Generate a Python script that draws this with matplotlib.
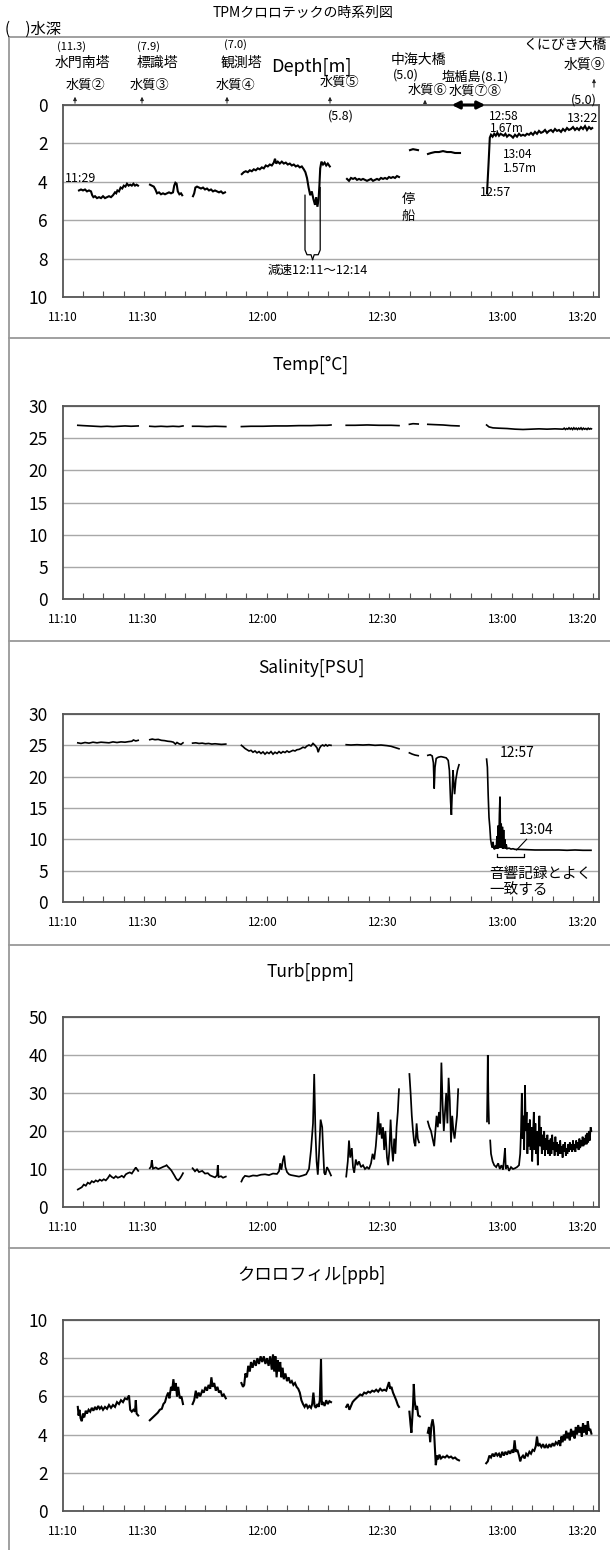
import numpy as np
import matplotlib
matplotlib.use('Agg')
import matplotlib.pyplot as plt
from matplotlib.lines import Line2D

plt.rcParams['font.family'] = ['Noto Sans CJK JP', 'DejaVu Sans']

W, H = 610, 1550

# time axis = minutes after 11:10
tick_pos = [0, 20, 50, 80, 110, 130]
tick_lab = ['11:10', '11:30', '12:00', '12:30', '13:00', '13:20']
minor_pos = np.linspace(4.97, 132.6, 26)

# Depth [m] (segments)
depth_t = [
    [4, 4.5, 5, 5.5, 6, 6.5, 7, 7.3, 7.6, 8, 8.5, 9, 9.5, 10, 10.5, 11, 11.5, 12, 12.5, 13,
     13.3, 13.6, 14, 14.4, 14.8, 15.2, 15.6, 16, 16.4, 16.8, 17.2, 17.6, 18, 18.4, 18.75],
    [21.75, 22.2, 22.7, 23.1, 23.5, 24, 24.5, 25, 25.5, 26, 26.5, 27, 27.5, 27.8, 28.1, 28.4,
     28.7, 29.1, 29.5, 29.8],
    [32.5, 32.8, 33.1, 33.5, 34, 34.5, 35, 35.5, 36, 36.5, 37, 37.5, 38, 38.5, 39, 39.5, 40, 40.5],
    [44.7, 45.2, 45.7, 46.2, 46.7, 47.2, 47.7, 48.2, 48.7, 49.2, 49.7, 50.2, 50.7, 51.2, 51.7,
     52.2, 52.7, 53.0, 53.3, 53.7, 54.2, 54.7, 55.2, 55.7, 56.2, 56.7, 57.2, 57.7, 58.2, 58.7,
     59.2, 59.7, 60.2, 60.6, 61.0, 61.4, 61.8, 62.2, 62.6, 63.0, 63.3, 63.6, 63.9, 64.1, 64.3,
     64.6, 65.0, 65.4, 65.8, 66.2, 66.7],
    [71, 71.5, 72, 72.5, 73, 73.5, 74, 74.5, 75, 75.5, 76, 76.5, 77, 77.5, 78, 78.5, 79, 79.5,
     80, 80.5, 81, 81.5, 82, 82.5, 83, 83.5, 84],
    [86.75, 87.5, 88.75],
    [91.25, 92, 93, 94, 95, 96, 97, 98, 99.25],
    [106, 106.4, 106.7, 107, 107.4, 107.8, 108.2, 108.6, 109, 109.4, 109.8, 110.2, 110.6, 111,
     111.5, 112, 112.5, 113, 113.5, 114, 114.5, 115, 115.5, 116, 116.5, 117, 117.5, 118, 118.5,
     119, 119.5, 120, 120.5, 121, 121.5, 122, 122.5, 123, 123.5, 124, 124.5, 125, 125.5, 126,
     126.5, 127, 127.5, 128, 128.5, 129, 129.5, 130, 130.5, 131, 131.5, 132, 132.3],
]
depth_v = [
    [4.45, 4.4, 4.45, 4.4, 4.5, 4.45, 4.5, 4.7, 4.8, 4.75, 4.85, 4.8, 4.85, 4.75, 4.85, 4.8, 4.75,
     4.8, 4.7, 4.55, 4.6, 4.45, 4.5, 4.3, 4.35, 4.2, 4.25, 4.1, 4.2, 4.15, 4.2, 4.1, 4.2, 4.15, 4.2],
    [4.15, 4.2, 4.25, 4.4, 4.6, 4.55, 4.65, 4.6, 4.65, 4.6, 4.55, 4.6, 4.55, 4.2, 4.05, 4.1, 4.5,
     4.65, 4.6, 4.7],
    [4.75, 4.6, 4.3, 4.25, 4.3, 4.35, 4.3, 4.4, 4.35, 4.45, 4.4, 4.5, 4.45, 4.5, 4.55, 4.5, 4.6, 4.55],
    [3.6, 3.5, 3.45, 3.5, 3.4, 3.45, 3.35, 3.4, 3.3, 3.35, 3.25, 3.3, 3.15, 3.2, 3.1, 3.15, 3.0,
     2.8, 3.05, 2.95, 3.05, 2.95, 3.05, 3.0, 3.1, 3.05, 3.15, 3.1, 3.2, 3.15, 3.25, 3.2, 3.35,
     3.5, 3.8, 4.3, 4.7, 4.5, 4.9, 5.2, 4.8, 5.3, 4.9, 4.2, 3.3, 2.95, 3.1, 3.0, 3.15, 3.05, 3.2],
    [3.85, 3.95, 3.8, 3.85, 3.8, 3.9, 3.85, 3.9, 3.85, 3.9, 3.95, 3.9, 3.85, 3.95, 3.9, 3.85,
     3.9, 3.8, 3.85, 3.8, 3.85, 3.75, 3.8, 3.75, 3.8, 3.7, 3.75],
    [2.35, 2.3, 2.35],
    [2.55, 2.5, 2.45, 2.45, 2.4, 2.45, 2.45, 2.5, 2.5],
    [4.6, 3.0, 1.7, 1.55, 1.65, 1.5, 1.6, 1.45, 1.6, 1.5, 1.55, 1.6, 1.5, 1.65, 1.55, 1.6, 1.7,
     1.55, 1.65, 1.5, 1.6, 1.55, 1.6, 1.5, 1.55, 1.45, 1.55, 1.4, 1.5, 1.35, 1.45, 1.4, 1.3, 1.45,
     1.35, 1.3, 1.4, 1.25, 1.35, 1.3, 1.4, 1.25, 1.35, 1.2, 1.3, 1.25, 1.15, 1.3, 1.2, 1.3, 1.15,
     1.25, 1.1, 1.3, 1.15, 1.25, 1.2],
]

# Temp [C]
temp_t = [
    [3.7, 5, 6.5, 8, 9.5, 11, 12.5, 14, 15.5, 17, 18.8],
    [21.7, 23, 24.5, 26, 27.5, 29, 30],
    [32.4, 34, 36, 38, 40.7],
    [44.6, 47, 50, 53, 56, 59, 62, 64, 66, 67],
    [70.8, 73, 76, 79, 82, 84],
    [86.6, 87.5, 88.8],
    [91.2, 93, 95, 97, 99],
    [105.9, 106.5, 107.5, 109, 111, 113, 115, 117, 119, 121, 123, 125, 125.3, 125.6, 125.9,
     126.2, 126.5, 126.8, 127.1, 127.4, 127.7, 128, 128.3, 128.6, 128.9, 129.2, 129.5, 129.8,
     130.1, 130.4, 130.7, 131, 131.3, 131.6, 131.9, 132.1],
]
temp_v = [
    [27.0, 26.95, 26.9, 26.85, 26.8, 26.85, 26.8, 26.85, 26.9, 26.85, 26.9],
    [26.85, 26.8, 26.85, 26.8, 26.85, 26.8, 26.9],
    [26.85, 26.85, 26.8, 26.85, 26.8],
    [26.8, 26.85, 26.85, 26.9, 26.9, 26.95, 26.95, 27.0, 27.0, 27.05],
    [27.0, 27.0, 27.05, 27.0, 27.0, 26.95],
    [27.15, 27.25, 27.2],
    [27.15, 27.1, 27.05, 26.95, 26.9],
    [27.05, 26.75, 26.6, 26.55, 26.5, 26.4, 26.35, 26.4, 26.45, 26.4, 26.45, 26.4, 26.55, 26.35,
     26.5, 26.4, 26.6, 26.4, 26.55, 26.35, 26.6, 26.4, 26.55, 26.35, 26.55, 26.4, 26.6, 26.35,
     26.55, 26.4, 26.5, 26.35, 26.55, 26.4, 26.5, 26.45],
]

# Salinity [PSU]
sal_t = [
    [3.7, 4.5, 5.5, 6.5, 7.5, 8.5, 9.5, 10.5, 11.5, 12.5, 13.5, 14.5, 15.5, 16.5, 17.2, 17.6, 18.2, 18.8],
    [21.7, 22.3, 23.0, 23.8, 24.6, 25.4, 26.2, 27.0, 27.6, 28.1, 28.5, 29.0, 29.5, 30.0],
    [32.4, 33.2, 34.0, 34.8, 35.6, 36.4, 37.2, 38.0, 38.8, 39.6, 40.7],
    [44.6, 45.0, 45.5, 46.0, 46.5, 47.0, 47.5, 48.0, 48.5, 49.0, 49.5, 50.0, 50.5, 51.0, 51.5,
     52.0, 52.5, 53.0, 53.5, 54.0, 54.5, 55.0, 55.5, 56.0, 56.5, 57.0, 57.5, 58.0, 58.5, 59.0,
     59.5, 60.0, 60.5, 61.0, 61.5, 62.0, 62.5, 63.0, 63.5, 63.8, 64.1, 64.5, 64.9, 65.3, 65.7,
     66.1, 66.5, 67.0],
    [70.8, 72.0, 73.5, 75.0, 76.5, 78.0, 79.5, 81.0, 82.0, 83.0, 84.0],
    [86.6, 87.3, 88.0, 88.8],
    [91.2, 91.8, 92.3, 92.6, 92.8, 93.0, 93.3, 93.8, 94.5, 95.2, 95.8, 96.3, 96.6, 96.9, 97.1,
     97.3, 97.5, 97.7, 97.9, 98.2, 98.6, 99.0],
    [105.9, 106.1, 106.3, 106.5, 106.7, 106.9, 107.1, 107.3, 107.5, 107.7, 107.9, 108.1, 108.3,
     108.5, 108.65, 108.8, 108.95, 109.1, 109.25, 109.4, 109.55, 109.7, 109.85, 110.0, 110.15,
     110.3, 110.45, 110.6, 110.8, 111.0, 111.5, 112.0, 112.5, 113.0, 114.0, 116.0, 118.0, 120.0,
     122.0, 124.0, 126.0, 128.0, 130.0, 132.0],
]
sal_v = [
    [25.4, 25.3, 25.45, 25.35, 25.5, 25.4, 25.5, 25.45, 25.4, 25.55, 25.45, 25.55, 25.5, 25.6,
     25.65, 25.85, 25.7, 25.8],
    [25.9, 26.0, 25.9, 25.95, 25.8, 25.75, 25.65, 25.6, 25.5, 25.2, 25.45, 25.25, 25.15, 25.4],
    [25.35, 25.4, 25.3, 25.35, 25.25, 25.3, 25.2, 25.25, 25.2, 25.15, 25.2],
    [25.0, 24.8, 24.5, 24.3, 24.1, 24.2, 23.9, 24.1, 23.8, 24.0, 23.7, 23.95, 23.6, 23.9, 23.7,
     24.0, 23.6, 23.9, 23.7, 24.0, 23.75, 24.0, 23.85, 24.1, 23.9, 24.05, 24.2, 24.1, 24.3, 24.35,
     24.5, 24.7, 24.6, 24.9, 25.05, 24.9, 25.3, 25.0, 24.6, 23.9, 24.5, 24.9, 25.05, 24.9, 25.1,
     24.9, 25.05, 25.0],
    [25.1, 25.05, 25.1, 25.05, 25.1, 25.0, 25.05, 24.95, 24.85, 24.65, 24.45],
    [23.8, 23.6, 23.45, 23.35],
    [23.4, 23.5, 23.3, 22.2, 18.1, 21.5, 22.9, 23.1, 23.2, 23.1, 23.0, 22.6, 21.0, 16.0, 13.9,
     17.5, 21.0, 19.0, 17.2, 19.5, 21.0, 21.9],
    [22.8, 21.5, 17.0, 13.5, 12.0, 10.0, 9.2, 8.7, 9.6, 8.6, 8.4, 9.0, 8.5, 10.5, 8.5, 12.2, 8.6,
     14.0, 16.8, 8.7, 12.5, 8.6, 12.0, 8.5, 11.5, 8.6, 10.0, 8.5, 9.2, 8.5, 8.6, 8.45, 8.5, 8.4,
     8.4, 8.35, 8.3, 8.3, 8.3, 8.3, 8.25, 8.3, 8.25, 8.25],
]

# Turb [ppm]
turb_t = [
    [3.7, 4.2, 4.7, 5.2, 5.7, 6.2, 6.7, 7.2, 7.7, 8.2, 8.7, 9.2, 9.7, 10.2, 10.7, 11.2, 11.7,
     12.2, 12.7, 13.2, 13.7, 14.2, 14.7, 15.2, 15.7, 16.2, 16.7, 17.2, 17.7, 18.2, 18.8],
    [21.7, 22.0, 22.2, 22.5, 23.2, 23.8, 24.5, 25.1, 25.6, 25.9, 26.3, 26.6, 27.1, 27.5, 27.9,
     28.2, 28.5, 28.8, 29.3, 29.7, 30.0],
    [32.4, 33.0, 33.5, 34.0, 34.8, 35.5, 36.2, 36.8, 37.5, 38.0, 38.5, 38.7, 38.9, 39.5, 40.0, 40.7],
    [44.6, 45.0, 45.5, 46.5, 47.5, 48.5, 49.5, 50.5, 51.5, 52.5, 53.5, 54.0, 54.3, 54.6, 55.0,
     55.3, 55.6, 56.0, 56.5, 57.0, 58.0, 59.0, 60.0, 60.8, 61.5, 62.0, 62.5, 62.8, 63.1, 63.4,
     63.7, 64.0, 64.4, 64.8, 65.0, 65.3, 65.6, 66.0, 66.5, 67.0],
    [70.8, 71.2, 71.5, 71.8, 72.2, 72.5, 72.8, 73.2, 73.6, 74.0, 74.5, 75.0, 75.5, 76.0, 76.5,
     77.0, 77.4, 77.8, 78.2, 78.5, 78.8, 79.1, 79.4, 79.7, 80.0, 80.3, 80.6, 81.0, 81.3, 81.6,
     81.9, 82.2, 82.5, 82.8, 83.1, 83.4, 83.7, 84.0],
    [86.6, 86.9, 87.2, 87.5, 87.8, 88.1, 88.4, 88.7, 89.0],
    [91.2, 91.6, 92.0, 92.4, 92.8, 93.1, 93.4, 93.7, 94.0, 94.3, 94.6, 94.9, 95.2, 95.5, 95.8,
     96.1, 96.4, 96.7, 97.0, 97.3, 97.6, 97.9, 98.2, 98.5, 98.8],
    [106.0, 106.1, 106.2, 106.35, 106.5],
    [106.8, 107.0, 107.4, 107.8, 108.3, 108.8, 109.2, 109.6, 110.0, 110.3, 110.5, 110.7, 111.1,
     111.5, 112.0, 112.5, 113.0, 113.5, 114.0, 114.3, 114.5, 114.7, 114.9, 115.1, 115.3, 115.5,
     115.7, 115.9, 116.1, 116.3, 116.5, 116.7, 116.9, 117.1, 117.3, 117.5, 117.7, 117.9, 118.1,
     118.3, 118.5, 118.7, 118.9, 119.1, 119.3, 119.5, 119.7, 119.9, 120.1, 120.3, 120.5, 120.7,
     120.9, 121.1, 121.3, 121.5, 121.7, 121.9, 122.1, 122.3, 122.5, 122.7, 122.9, 123.1, 123.3,
     123.5, 123.7, 123.9, 124.1, 124.3, 124.5, 124.7, 124.9, 125.1, 125.3, 125.5, 125.7, 125.9,
     126.1, 126.3, 126.5, 126.7, 126.9, 127.1, 127.3, 127.5, 127.7, 127.9, 128.1, 128.3, 128.5,
     128.7, 128.9, 129.1, 129.3, 129.5, 129.7, 129.9, 130.1, 130.3, 130.5, 130.7, 130.9, 131.1,
     131.3, 131.5, 131.7, 131.9, 132.1],
]
turb_v = [
    [4.6, 4.9, 5.2, 5.9, 5.6, 6.4, 6.1, 6.8, 6.5, 7.0, 6.7, 7.2, 6.9, 7.3, 7.0, 7.6, 8.4, 7.9,
     7.6, 8.1, 7.7, 7.9, 8.2, 7.8, 8.6, 8.9, 9.1, 8.8, 9.6, 10.4, 9.5],
    [10.2, 10.6, 12.3, 10.1, 10.4, 10.0, 10.3, 10.6, 10.8, 11.0, 10.5, 10.2, 9.6, 8.9, 8.2, 7.6,
     7.2, 7.0, 7.6, 8.3, 8.9],
    [10.2, 9.4, 9.9, 9.2, 9.5, 8.8, 8.9, 8.3, 8.0, 7.8, 8.3, 11.0, 7.9, 8.1, 7.7, 8.0],
    [6.7, 7.6, 8.2, 8.0, 8.3, 8.2, 8.5, 8.6, 8.4, 8.8, 8.7, 9.4, 11.5, 9.8, 12.4, 13.5, 10.5,
     9.2, 8.6, 8.4, 8.2, 8.0, 8.3, 8.6, 10.0, 15.0, 22.0, 35.0, 20.0, 12.0, 8.5, 14.0, 23.0,
     21.0, 16.0, 9.0, 8.5, 10.5, 9.5, 8.3],
    [8.0, 12.0, 17.5, 13.0, 15.5, 10.5, 9.0, 12.5, 11.0, 12.0, 10.5, 11.0, 10.0, 10.5, 10.0,
     11.5, 14.0, 12.5, 16.0, 20.0, 25.0, 19.0, 22.0, 18.0, 21.0, 15.0, 20.0, 13.0, 11.0, 15.0,
     23.0, 16.0, 12.0, 18.0, 14.0, 21.0, 25.0, 31.0],
    [35.0, 30.0, 24.0, 20.0, 17.0, 16.0, 22.0, 18.0, 17.0],
    [22.5, 21.0, 20.0, 18.0, 16.0, 20.0, 24.0, 21.0, 25.0, 22.0, 38.0, 27.0, 20.0, 25.0, 30.0,
     22.0, 34.0, 28.0, 17.0, 24.0, 20.0, 18.0, 21.0, 24.0, 31.0],
    [22.5, 30.0, 40.0, 28.0, 22.0],
    [17.5, 14.0, 12.0, 11.0, 10.5, 11.5, 10.0, 11.0, 9.8, 13.0, 15.5, 10.0, 11.0, 9.5, 10.5,
     10.0, 10.2, 10.5, 11.0, 14.0, 20.0, 30.0, 18.0, 24.0, 15.0, 32.0, 20.0, 25.0, 14.0, 22.0,
     16.0, 23.0, 15.0, 21.0, 12.0, 19.0, 25.0, 15.0, 22.0, 14.0, 20.0, 11.0, 18.0, 24.0, 16.0,
     21.0, 14.0, 19.0, 15.0, 20.0, 13.5, 18.0, 15.0, 19.0, 14.0, 17.5, 13.5, 18.0, 14.0, 19.0,
     15.0, 17.0, 13.5, 18.5, 14.5, 17.0, 13.5, 16.5, 14.0, 17.5, 14.0, 16.0, 13.0, 16.5, 14.5,
     17.0, 13.5, 15.5, 14.0, 16.5, 14.5, 17.0, 15.0, 16.5, 14.5, 17.5, 15.0, 16.5, 14.5, 17.5,
     15.5, 17.0, 15.0, 18.0, 15.5, 17.5, 16.0, 18.5, 16.0, 18.0, 16.5, 19.0, 16.5, 19.5, 17.0,
     20.0, 17.5, 21.0, 20.0],
]

# クロロフィル [ppb]
chl_t = [
    [3.7, 3.9, 4.1, 4.4, 4.7, 5.0, 5.3, 5.7, 6.0, 6.4, 6.8, 7.2, 7.6, 8.0, 8.4, 8.8, 9.2, 9.6,
     10.0, 10.5, 11.0, 11.5, 12.0, 12.5, 13.0, 13.5, 14.0, 14.5, 15.0, 15.5, 16.0, 16.5, 16.8,
     17.2, 17.6, 18.0, 18.2, 18.4, 18.8],
    [21.7, 22.2, 22.7, 23.2, 23.7, 24.2, 24.7, 25.1, 25.5, 25.9, 26.3, 26.6, 27.0, 27.3, 27.6,
     27.9, 28.2, 28.5, 28.8, 29.2, 29.6, 30.0],
    [32.4, 32.8, 33.2, 33.5, 33.9, 34.3, 34.8, 35.2, 35.6, 36.0, 36.4, 36.8, 37.1, 37.4, 37.8,
     38.2, 38.6, 39.0, 39.4, 39.8, 40.2, 40.7],
    [44.6, 45.0, 45.3, 45.6, 46.0, 46.3, 46.7, 47.0, 47.4, 47.8, 48.2, 48.6, 49.0, 49.4, 49.8,
     50.2, 50.6, 51.0, 51.4, 51.8, 52.2, 52.5, 52.8, 53.1, 53.4, 53.7, 54.0, 54.3, 54.6, 54.9,
     55.2, 55.6, 56.0, 56.4, 56.8, 57.2, 57.6, 58.0, 58.4, 58.8, 59.2, 59.6, 60.0, 60.4, 60.8,
     61.2, 61.6, 62.0, 62.3, 62.6, 62.9, 63.2, 63.6, 63.9, 64.2, 64.5, 64.7, 65.0, 65.4, 65.8,
     66.2, 66.6, 67.0],
    [70.8, 71.2, 71.6, 72.0, 72.4, 72.8, 73.3, 73.8, 74.3, 74.8, 75.3, 75.8, 76.3, 76.8, 77.3,
     77.8, 78.3, 78.8, 79.3, 79.8, 80.3, 80.8, 81.2, 81.5, 81.8, 82.1, 82.5, 82.9, 83.3, 83.7, 84.0],
    [86.6, 86.9, 87.1, 87.3, 87.5, 87.7, 87.9, 88.2, 88.5, 88.8, 89.2],
    [91.2, 91.5, 91.8, 92.1, 92.4, 92.7, 93.0, 93.2, 93.5, 93.8, 94.1, 94.5, 95.0, 95.5, 96.0,
     96.5, 97.0, 97.5, 98.0, 98.5, 99.0],
    [105.8, 106.2, 106.6, 107.0, 107.4, 107.8, 108.2, 108.6, 109.0, 109.4, 109.8, 110.2, 110.6,
     111.0, 111.4, 111.8, 112.2, 112.6, 112.9, 113.2, 113.6, 114.0, 114.3, 114.6, 115.0, 115.4,
     115.8, 116.2, 116.6, 117.0, 117.4, 117.8, 118.2, 118.5, 118.8, 119.2, 119.6, 120.0, 120.4,
     120.8, 121.2, 121.6, 122.0, 122.4, 122.8, 123.2, 123.6, 124.0, 124.3, 124.6, 124.9, 125.2,
     125.5, 125.8, 126.1, 126.4, 126.7, 127.0, 127.3, 127.6, 127.9, 128.2, 128.5, 128.8, 129.1,
     129.4, 129.7, 130.0, 130.3, 130.6, 130.9, 131.2, 131.5, 131.8, 132.1],
]
chl_v = [
    [5.45, 5.0, 5.3, 4.85, 4.7, 5.1, 4.9, 5.25, 5.1, 5.3, 5.2, 5.4, 5.25, 5.45, 5.3, 5.5, 5.35,
     5.45, 5.3, 5.45, 5.35, 5.55, 5.4, 5.55, 5.45, 5.7, 5.6, 5.8, 5.7, 5.9, 5.85, 6.05, 5.3, 5.2,
     5.3, 5.2, 5.8, 5.1, 5.0],
    [4.75, 4.85, 4.95, 5.05, 5.15, 5.3, 5.35, 5.6, 5.7, 6.0, 6.2, 5.9, 6.5, 6.3, 6.9, 6.3, 6.7,
     6.0, 6.5, 5.9, 6.0, 5.6],
    [5.6, 5.8, 6.3, 5.9, 6.2, 6.0, 6.3, 6.2, 6.5, 6.3, 6.6, 6.4, 7.0, 6.5, 6.7, 6.3, 6.5, 6.2,
     6.3, 6.0, 6.1, 5.9],
    [6.7, 6.5, 6.6, 7.2, 7.0, 7.6, 7.3, 7.8, 7.5, 7.9, 7.6, 8.0, 7.7, 8.1, 7.8, 8.1, 7.7, 8.0,
     7.6, 8.1, 7.4, 8.2, 7.3, 8.1, 7.0, 7.9, 7.3, 7.8, 7.0, 7.5, 6.9, 7.2, 6.8, 7.0, 6.7, 6.8,
     6.6, 6.7, 6.5, 6.4, 6.2, 5.8, 5.6, 5.45, 5.6, 5.4, 5.5, 5.4, 5.6, 6.2, 5.5, 5.4, 5.6, 5.45,
     5.8, 7.95, 5.55, 5.7, 5.5, 5.8, 5.6, 5.75, 5.7],
    [5.45, 5.6, 5.3, 5.5, 5.7, 5.8, 5.9, 6.0, 6.1, 6.05, 6.2, 6.15, 6.25, 6.2, 6.3, 6.25, 6.35,
     6.25, 6.4, 6.3, 6.35, 6.3, 6.55, 6.75, 6.4, 6.5, 6.2, 6.0, 5.8, 5.55, 5.45],
    [5.2, 4.5, 4.1, 4.8, 5.5, 6.65, 5.8, 5.3, 5.5, 5.0, 4.95],
    [4.1, 4.4, 3.6, 4.5, 4.8, 4.4, 3.2, 2.4, 2.9, 2.7, 2.95, 2.75, 2.85, 2.8, 2.9, 2.8, 2.85,
     2.75, 2.8, 2.7, 2.65],
    [2.5, 2.6, 2.9, 2.8, 3.0, 2.85, 3.05, 2.9, 3.0, 2.8, 3.1, 2.9, 3.1, 2.95, 3.15, 3.0, 3.2,
     3.05, 3.7, 3.1, 3.2, 2.9, 2.6, 2.8, 2.9, 2.75, 3.0, 2.9, 3.1, 3.0, 3.2, 3.15, 3.4, 3.9, 3.4,
     3.5, 3.35, 3.5, 3.3, 3.45, 3.3, 3.5, 3.35, 3.55, 3.4, 3.6, 3.5, 3.7, 3.4, 3.9, 3.6, 4.0, 3.7,
     4.2, 3.8, 4.1, 3.7, 4.3, 3.9, 4.2, 3.8, 4.4, 4.0, 4.5, 4.1, 4.4, 3.9, 4.6, 4.1, 4.5, 4.0,
     4.7, 4.2, 4.3, 4.05],
]

fig = plt.figure(figsize=(W / 100, H / 100), dpi=100)


def px(x, y):
    return x / W, 1 - y / H


def ftext(x, y, s, size=9.5, ha='center', **kw):
    fig.text(*px(x, y), s, fontsize=size, ha=ha, va='center', **kw)


def fline(xs, ys, **kw):
    fig.add_artist(Line2D([x / W for x in xs], [1 - y / H for y in ys],
                          transform=fig.transFigure, **kw))


def farrow(x, y0, y1):
    fig.add_artist(matplotlib.patches.FancyArrowPatch(
        px(x, y0), px(x, y1), transform=fig.transFigure,
        arrowstyle='-|>', mutation_scale=5, lw=0.7, color='#222'))


def make_ax(top, bottom, ymax, ystep, invert=False):
    ax = fig.add_axes([63 / W, 1 - bottom / H, (599 - 63) / W, (bottom - top) / H])
    ax.set_xlim(0, 134)
    if invert:
        ax.set_ylim(ymax, 0)
    else:
        ax.set_ylim(0, ymax)
    ax.set_yticks(np.arange(0, ymax + ystep / 2, ystep))
    ax.yaxis.grid(True, color='#a8a8a8', lw=1.0)
    ax.set_axisbelow(True)
    ax.tick_params(axis='y', length=0, labelsize=12.5, pad=11)
    ax.set_xticks(tick_pos, tick_lab)
    ax.set_xticks(minor_pos, minor=True)
    ax.tick_params(axis='x', which='major', length=0, labelsize=8.5, pad=10)
    ax.tick_params(axis='x', which='minor', direction='in', length=4, width=0.8, color='#555')
    for s in ax.spines.values():
        s.set_color('#555')
        s.set_linewidth(1.3)
    return ax


def plot_series(ax, ts, vs, lw):
    for t, v in zip(ts, vs):
        ax.plot(t, v, color='black', lw=lw, solid_joinstyle='miter')


# frame lines
fline([9, 610], [37, 37], color='#999', lw=1.3)
for yb in [338, 641, 945, 1248]:
    fline([9, 610], [yb, yb], color='#999', lw=1.3)
fline([9, 9], [37, 1550], color='#999', lw=1.3)

# ---- Depth panel
ax_d = make_ax(105, 297, 10, 2, invert=True)
plot_series(ax_d, depth_t, depth_v, 1.5)
# bracket for slow-down
ax_d.plot([60.5, 60.5, 61.0, 62.0, 62.4], [4.7, 7.55, 7.8, 7.8, 8.05], color='black', lw=0.9)
ax_d.plot([62.4, 62.8, 63.8, 64.3, 64.3], [8.05, 7.8, 7.8, 7.55, 4.3], color='black', lw=0.9)

ftext(303, 13, 'TPMクロロテックの時系列図', size=10)
ftext(5, 29, '(\u3000)水深', size=11, ha='left')
ftext(311, 67, 'Depth[m]', size=13)

ftext(72, 47, '(11.3)', size=8)
ftext(82, 63, '水門南塔', size=10)
ftext(85, 85, '水質②', size=9.5)
farrow(75, 106, 94)
ftext(149, 47, '(7.9)', size=8)
ftext(157, 63, '標識塔', size=10)
ftext(149, 85, '水質③', size=9.5)
farrow(142, 106, 94)
ftext(235, 45, '(7.0)', size=8)
ftext(241, 63, '観測塔', size=10)
ftext(235, 85, '水質④', size=9.5)
farrow(227, 106, 94)
ftext(339, 82, '水質⑤', size=9.5)
farrow(330, 106, 94)
ftext(341, 116, '(5.8)', size=9)
ftext(418, 60, '中海大橋', size=10)
ftext(406, 75, '(5.0)', size=9)
ftext(427, 90, '水質⑥', size=9.5)
farrow(425, 106, 97)
ftext(475, 77, '塩楯島(8.1)', size=9.5)
ftext(475, 91, '水質⑦⑧', size=9.5)
fig.add_artist(matplotlib.patches.FancyArrowPatch(
    px(449, 105), px(488, 105), transform=fig.transFigure,
    arrowstyle='<|-|>', mutation_scale=11, lw=2.2, color='black'))
ftext(607, 45, 'くにびき大橋', size=10, ha='right')
ftext(605, 65, '水質⑨', size=10, ha='right')
farrow(594, 90, 76)
ftext(584, 100, '(5.0)', size=9)
ftext(489, 116, '12:58', size=8.5, ha='left')
ftext(490, 128, '1.67m', size=8.5, ha='left')
ftext(567, 119, '13:22', size=9, ha='left')
ftext(503, 155, '13:04', size=8.5, ha='left')
ftext(503, 168, '1.57m', size=8.5, ha='left')
ftext(480, 193, '12:57', size=9, ha='left')
ftext(65, 178, '11:29', size=9, ha='left')
ftext(408, 200, '停', size=9.5)
ftext(408, 216, '船', size=9.5)
ftext(268, 270, '減速12:11～12:14', size=9, ha='left')

# ---- Temp panel
ftext(311, 365, 'Temp[°C]', size=12.5)
ax_t = make_ax(406, 599, 30, 5)
plot_series(ax_t, temp_t, temp_v, 1.2)

# ---- Salinity panel
ftext(311, 668, 'Salinity[PSU]', size=12.5)
ax_s = make_ax(714, 902, 30, 5)
plot_series(ax_s, sal_t, sal_v, 1.2)
ftext(500, 753, '12:57', size=10, ha='left')
ftext(519, 830, '13:04', size=10, ha='left')
ax_s.plot([115.9, 113.4], [10.0, 8.3], color='black', lw=0.8)
ax_s.plot([108.5, 108.5, 115.3, 115.3], [7.6, 7.2, 7.2, 7.6], color='black', lw=0.9, clip_on=False)
ftext(489, 874, '音響記録とよく', size=10.5, ha='left')
ftext(489, 891, '一致する', size=10.5, ha='left')

# ---- Turb panel
ftext(311, 972, 'Turb[ppm]', size=12.5)
ax_u = make_ax(1017, 1207, 50, 10)
plot_series(ax_u, turb_t, turb_v, 1.25)

# ---- Chlorophyll panel
ftext(311, 1275, 'クロロフィル[ppb]', size=12.5)
ax_c = make_ax(1320, 1511, 10, 2)
plot_series(ax_c, chl_t, chl_v, 1.5)

fig.savefig('out.png', dpi=100)
